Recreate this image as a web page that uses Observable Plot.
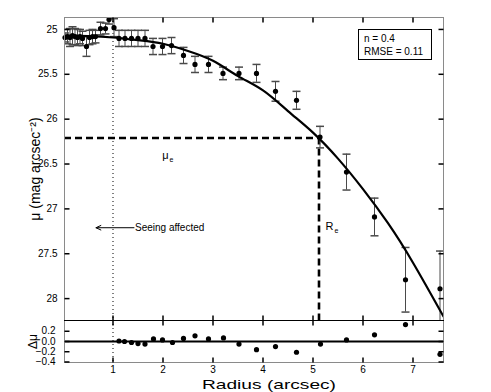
<!DOCTYPE html>
<html><head><meta charset="utf-8">
<script src="https://cdn.jsdelivr.net/npm/d3@7"></script>
<script src="https://cdn.jsdelivr.net/npm/@observablehq/plot@0.6"></script>
<style>
body{margin:0;background:#fff;}
#chart{position:relative;width:491px;height:392px;font-family:"Liberation Sans",Arial,sans-serif;}
#chart svg{position:absolute;left:0;overflow:visible;}
#legend{position:absolute;left:358px;top:29px;width:67px;height:27px;border:1px solid #000;background:#fff;font-size:10px;line-height:13px;padding:2px 0 0 5px;color:#000;white-space:nowrap;}
</style>
</head><body>
<div id="chart"><div id="legend">n = 0.4<br>RMSE = 0.11</div></div>
<script>
// ---- data ----
const radius = [0.04,0.09,0.14,0.19,0.24,0.29,0.34,0.39,0.47,0.53,0.59,0.65,0.75,0.85,0.92,1.02,1.12,1.24,1.37,1.5,1.64,1.8,1.99,2.17,2.41,2.64,2.91,3.2,3.52,3.87,4.25,4.67,5.14,5.67,6.23,6.85,7.54];
const mu     = [25.09,25.08,25.09,25.07,25.08,25.09,25.08,25.1,25.19,25.09,25.08,25.08,24.99,24.99,24.89,24.98,25.1,25.1,25.1,25.1,25.1,25.19,25.19,25.18,25.29,25.39,25.39,25.49,25.49,25.49,25.69,25.79,26.2,26.59,27.09,27.79,27.89];
const muErr  = [0.05,0.08,0.1,0.1,0.09,0.09,0.08,0.08,0.11,0.08,0.08,0.07,0.07,0.06,0.05,0.1,0.09,0.09,0.09,0.09,0.09,0.09,0.09,0.09,0.09,0.09,0.09,0.07,0.07,0.1,0.11,0.1,0.12,0.2,0.21,0.36,0.42];

const fitR  = [0.03,0.5,1.0,1.5,2.0,2.5,3.0,3.5,4.0,4.5,5.0,5.5,6.0,6.5,7.0,7.61];
const fitMu = [25.07,25.075,25.09,25.12,25.16,25.24,25.35,25.52,25.68,25.91,26.15,26.44,26.78,27.16,27.6,28.2];

const resR = [1.12,1.23,1.37,1.5,1.64,1.81,1.99,2.19,2.41,2.64,2.91,3.21,3.52,3.87,4.25,4.67,5.15,5.67,6.23,6.85,7.54];
const resV = [0.01,0.0,-0.02,-0.04,-0.05,0.05,0.03,-0.02,0.06,0.11,0.05,0.07,-0.05,-0.16,-0.1,-0.21,-0.05,0.03,0.13,0.33,-0.25];

const xDomain = [0.03, 7.61];
const muDomain = [24.867, 28.244];
const resDomain = [-0.41, 0.41];
const xTicks = [1,2,3,4,5,6,7];
const muTicks = [25,25.5,26,26.5,27,27.5,28];
const resTicks = [0.2,0,-0.2,-0.4];

const Re = 5.12, muE = 26.21, seeingR = 1.0;
const seeingArrow = [{x1:1.42, x2:0.66, y:27.21}];
const seeingLabel = [{x:1.44, y:27.21, text:"Seeing affected"}];
const muELabel = [{x:2.05, y:26.41}];
const ReLabel = [{x:5.33, y:27.2}];
const yTitle = "μ (mag arcsec⁻²)";
const resTitle = "Δμ";
const xTitle = "Radius (arcsec)";

// ---- build ----
const pts = radius.map((r,i)=>({r, mu: mu[i], lo: mu[i]-muErr[i], hi: mu[i]+muErr[i]}));
const fit = fitR.map((r,i)=>({r, mu: fitMu[i]}));
const res = resR.map((r,i)=>({r, v: resV[i]}));

const seg = (dx,dy,ox=0,oy=0)=>({draw(ctx){ctx.moveTo(ox,oy);ctx.lineTo(ox+dx,oy+dy);}});
const cap = seg(8,0,-4,0);
const font = '"Liberation Sans", Arial, sans-serif';
const style = {background:"transparent", fontFamily: font, fontSize:"10px", color:"#000"};
const dotted = {stroke:"#000", strokeWidth:1, strokeDasharray:"1,3"};
const ebColor = "#4a4a4a";

function frameTicks(xt, yt) {
  return [
    Plot.dot(yt, {y: d=>d, frameAnchor:"left", symbol: seg(5,0), stroke:"#000", fill:"none"}),
    Plot.dot(yt, {y: d=>d, frameAnchor:"right", symbol: seg(-5,0), stroke:"#000", fill:"none"}),
    Plot.dot(xt, {x: d=>d, frameAnchor:"top", symbol: seg(0,5), stroke:"#000", fill:"none"}),
    Plot.dot(xt, {x: d=>d, frameAnchor:"bottom", symbol: seg(0,-5), stroke:"#000", fill:"none"})
  ];
}

const main = Plot.plot({
  width: 491, height: 321,
  marginLeft: 64, marginRight: 48, marginTop: 17, marginBottom: 1,
  style,
  x: {domain: xDomain, axis: null},
  y: {domain: muDomain, reverse: true},
  marks: [
    Plot.ruleY([muE], {x1: xDomain[0], x2: Re, stroke:"#000", strokeWidth:2.6, strokeDasharray:"7,4"}),
    Plot.ruleX([Re], {y1: muE, y2: muDomain[1], stroke:"#000", strokeWidth:2.6, strokeDasharray:"7,4"}),
    Plot.ruleX([seeingR], dotted),
    Plot.arrow(seeingArrow, {x1:"x1", x2:"x2", y1:"y", y2:"y", stroke:"#000", strokeWidth:1, headLength:8, headAngle:50}),
    Plot.text(seeingLabel, {x:"x", y:"y", text:"text", textAnchor:"start", fontSize:10, fill:"#000"}),
    Plot.text(muELabel, {x:"x", y:"y", text:()=>"μ", fontSize:11, fill:"#000"}),
    Plot.text(muELabel, {x:"x", y:"y", text:()=>"e", fontSize:7, dx:6, dy:4, fill:"#000"}),
    Plot.text(ReLabel, {x:"x", y:"y", text:()=>"R", fontSize:11, fill:"#000"}),
    Plot.text(ReLabel, {x:"x", y:"y", text:()=>"e", fontSize:7, dx:7, dy:4, fill:"#000"}),
    Plot.ruleX(pts, {x:"r", y1:"lo", y2:"hi", stroke: ebColor, strokeWidth:1, clip:true}),
    Plot.dot(pts, {x:"r", y:"lo", symbol: cap, stroke: ebColor, fill:"none", clip:true}),
    Plot.dot(pts, {x:"r", y:"hi", symbol: cap, stroke: ebColor, fill:"none", clip:true}),
    Plot.line(fit, {x:"r", y:"mu", stroke:"#000", strokeWidth:2.2, curve:"natural", clip:true}),
    Plot.dot(pts, {x:"r", y:"mu", r:2.6, fill:"#000", stroke:"none"}),
    Plot.frame({stroke:"#8a8a8a"}),
    Plot.frame({anchor:"bottom", stroke:"#000"}),
    ...frameTicks(xTicks, muTicks),
    Plot.axisY(muTicks, {tickSize:0, tickPadding:7, tickFormat: d=>String(d), label:null, fill:"#000", fontSize:10}),
    Plot.text([yTitle], {frameAnchor:"left", dx:-29, rotate:-90, textAnchor:"middle", lineAnchor:"middle", fontSize:14, fill:"#000"})
  ]
});
main.style.top = "0px";

const resid = Plot.plot({
  width: 491, height: 72,
  marginLeft: 64, marginRight: 48, marginTop: 0, marginBottom: 30,
  style,
  x: {domain: xDomain},
  y: {domain: resDomain},
  marks: [
    Plot.ruleX([seeingR], dotted),
    Plot.ruleY([0], {stroke:"#000", strokeWidth:2}),
    Plot.dot(res, {x:"r", y:"v", r:2.6, fill:"#000", stroke:"none"}),
    Plot.frame({stroke:"#8a8a8a"}),
    Plot.frame({anchor:"top", stroke:"#000"}),
    ...frameTicks(xTicks, resTicks),
    Plot.axisY(resTicks, {tickSize:0, tickPadding:9, label:null, fill:"#000", fontSize:10}),
    Plot.axisX(xTicks, {tickSize:0, tickPadding:3, label:null, fill:"#000", fontSize:10}),
    Plot.text([resTitle], {frameAnchor:"left", dx:-31, rotate:-90, textAnchor:"middle", lineAnchor:"middle", fontSize:12, fill:"#000"}),
    Plot.text([xTitle], {frameAnchor:"bottom", dx:15, dy:22, textAnchor:"middle", lineAnchor:"middle", fontSize:13.5, fill:"#000"})
  ]
});
resid.style.top = "320px";

const chart = document.getElementById("chart");
chart.insertBefore(resid, chart.firstChild);
chart.insertBefore(main, chart.firstChild);

// the reference's x title is drawn horizontally wide
resid.querySelectorAll("text").forEach(t => {
  if (t.textContent === xTitle) {
    t.setAttribute("textLength", "134");
    t.setAttribute("lengthAdjust", "spacingAndGlyphs");
  }
});
</script>
</body></html>
